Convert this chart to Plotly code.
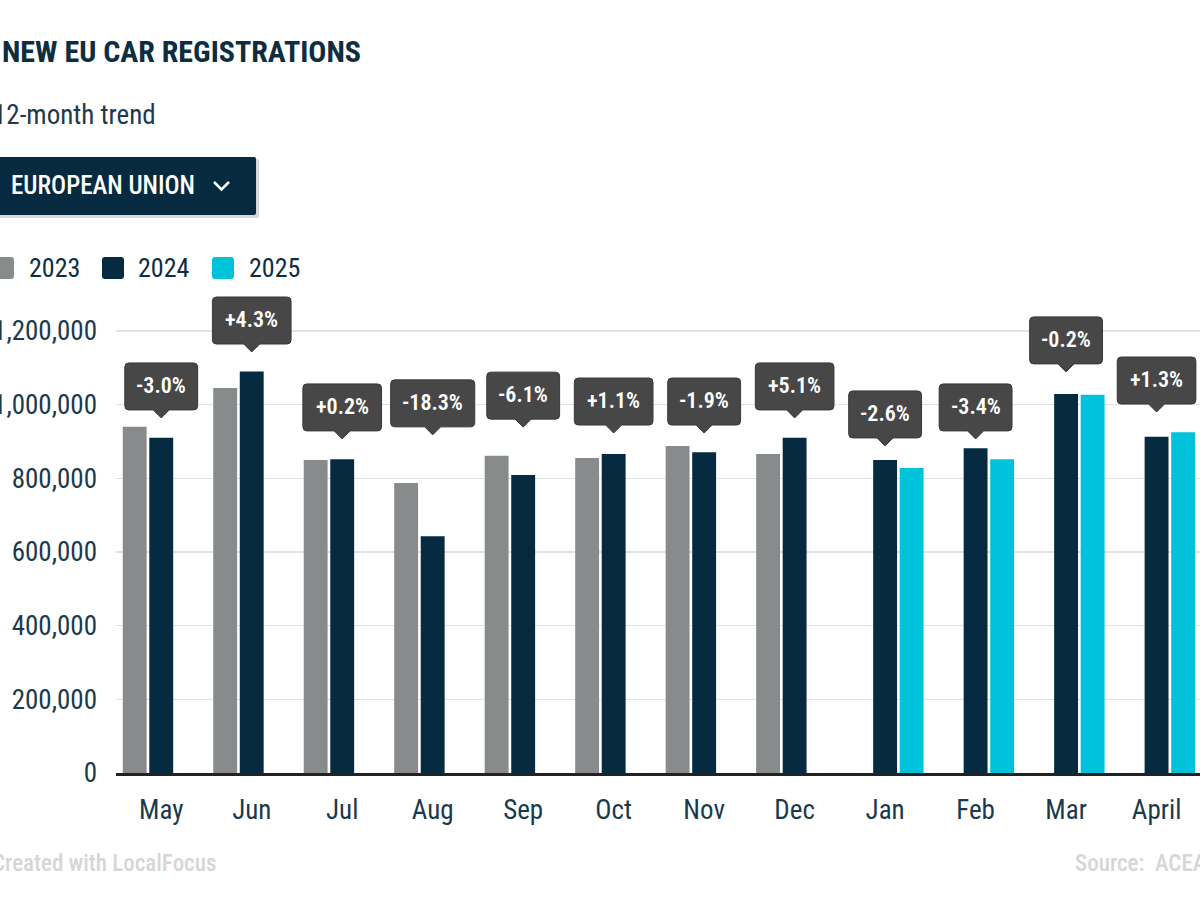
import plotly.graph_objects as go

months = ["May", "Jun", "Jul", "Aug", "Sep", "Oct", "Nov", "Dec", "Jan", "Feb", "Mar", "April"]
v2023 = [940000, 1045000, 850000, 787000, 861000, 855000, 888000, 866000, None, None, None, None]
v2024 = [910000, 1090000, 852000, 643000, 809000, 866000, 871000, 910000, 850000, 882000, 1029000, 913000]
v2025 = [None, None, None, None, None, None, None, None, 828000, 852000, 1027000, 925000]
changes = ["-3.0%", "+4.3%", "+0.2%", "-18.3%", "-6.1%", "+1.1%", "-1.9%", "+5.1%",
           "-2.6%", "-3.4%", "-0.2%", "+1.3%"]
callout_y = [964000, 1143000, 907000, 918000, 939000, 923000, 923000, 964000,
             888000, 907000, 1089000, 980000]
y_ticks = [0, 200000, 400000, 600000, 800000, 1000000, 1200000]
series_names = ["2023", "2024", "2025"]

GRAY = "#888b8c"
NAVY = "#062a40"
CYAN = "#00c3db"
TXT = "#0d2d40"
TICK = "#1a3a4c"
BOX = "#474747"
FONT = "Roboto Condensed, Roboto, sans-serif"

OFF = 0  # page body margin removed by post_script
W, H = 1200, 900
# plot area in screen pixels
SX0, SX1, SY0, SY1 = 116, 1200, 280, 773
L, R, T, B = SX0 - OFF, W - (SX1 - OFF), SY0 - OFF, H - (SY1 - OFF)
YMAX = 1200000 * (SY1 - SY0) / (SY1 - 331)

fig = go.Figure()
for name, vals, col in zip(series_names, [v2023, v2024, v2025], [GRAY, NAVY, CYAN]):
    fig.add_trace(go.Bar(x=months, y=vals, name=name, marker_color=col,
                         marker_line_width=0, showlegend=False, hoverinfo="skip"))

shapes = []
annotations = []


def screen_shape(path, **kw):
    d = dict(type="path", xref="paper", yref="paper", xsizemode="pixel", ysizemode="pixel",
             xanchor=-L / (W - L - R), yanchor=(H - B) / (H - T - B), path=path, layer="above")
    d.update(kw)
    return d


def rrect_screen(x0, y0, x1, y1, r):
    x0, x1, y0, y1 = x0 - OFF, x1 - OFF, y0 - OFF, y1 - OFF
    return (f"M{x0+r},{-y0} L{x1-r},{-y0} Q{x1},{-y0} {x1},{-(y0+r)} "
            f"L{x1},{-(y1-r)} Q{x1},{-y1} {x1-r},{-y1} L{x0+r},{-y1} "
            f"Q{x0},{-y1} {x0},{-(y1-r)} L{x0},{-(y0+r)} Q{x0},{-y0} {x0+r},{-y0} Z")


def poly_screen(pts):
    return "M" + " L".join(f"{x-OFF},{-(y-OFF)}" for x, y in pts)


def pxp(x):
    return (x - OFF - L) / (W - L - R)


def pyp(y):
    return (H - B - (y - OFF)) / (H - T - B)


# dropdown box with shadow
shapes.append(screen_shape(rrect_screen(-4, 159, 259, 218, 2), fillcolor="#d5d9dc", line_width=0))
shapes.append(screen_shape(rrect_screen(-6, 157, 256, 215, 2), fillcolor=NAVY, line_width=0))
shapes.append(screen_shape(poly_screen([(214, 182), (221.5, 189.5), (229, 182)]),
                           line=dict(color="white", width=2.5)))

# legend squares
for x0, col in [(-8, GRAY), (102, NAVY), (212, CYAN)]:
    shapes.append(screen_shape(rrect_screen(x0, 257, x0 + 22, 279, 3), fillcolor=col, line_width=0))

# callouts
cw = {"0": .5615, "1": .5615, "2": .5615, "3": .5615, "4": .5615, "5": .5615, "6": .5615,
      "7": .5615, "8": .5615, "9": .5615, ".": .26, "%": .73, "+": .57, "-": .28}
for i, (lab, yv) in enumerate(zip(changes, callout_y)):
    w = 25 + 20 * sum(cw.get(c, .56) for c in lab)
    h0, h1, r, p = 8, 55, 4, 8
    a, b = -w / 2, w / 2
    path = (f"M{a+r},{h1} L{b-r},{h1} Q{b},{h1} {b},{h1-r} L{b},{h0+r} Q{b},{h0} {b-r},{h0} "
            f"L{p},{h0} L0,0 L{-p},{h0} L{a+r},{h0} Q{a},{h0} {a},{h0+r} L{a},{h1-r} "
            f"Q{a},{h1} {a+r},{h1} Z")
    shapes.append(dict(type="path", xref="x", yref="y", xsizemode="pixel", ysizemode="pixel",
                       xanchor=i, yanchor=yv, path=path, fillcolor=BOX,
                       line=dict(color="#383838", width=1), layer="above"))
    annotations.append(dict(x=i, y=yv, xref="x", yref="y", text=lab, showarrow=False,
                            yanchor="middle", xanchor="center", yshift=(h0 + h1) / 2 + 1,
                            font=dict(family=FONT, size=22, color="white", weight=600)))

# titles
annotations.append(dict(x=pxp(363), y=pyp(52), xref="paper", yref="paper", xanchor="right",
                        yanchor="middle", showarrow=False, text="NEW EU CAR REGISTRATIONS",
                        font=dict(family=FONT, size=30, color=TXT, weight="bold")))
annotations.append(dict(x=pxp(158), y=pyp(115), xref="paper", yref="paper", xanchor="right",
                        yanchor="middle", showarrow=False, text="12-month trend",
                        font=dict(family=FONT, size=27, color="#21394a")))
annotations.append(dict(x=pxp(9), y=pyp(186), xref="paper", yref="paper", xanchor="left",
                        yanchor="middle", showarrow=False, text="EUROPEAN UNION",
                        font=dict(family=FONT, size=25, color="white", weight=500)))
for xr, name in [(82, "2023"), (192, "2024"), (302, "2025")]:
    annotations.append(dict(x=pxp(xr), y=pyp(268), xref="paper", yref="paper", xanchor="right",
                            yanchor="middle", showarrow=False, text=name,
                            font=dict(family=FONT, size=26, color=TXT)))
annotations.append(dict(x=pxp(218), y=pyp(863), xref="paper", yref="paper", xanchor="right",
                        yanchor="middle", showarrow=False, text="Created with LocalFocus",
                        font=dict(family=FONT, size=23, color="#d6d6d6", weight=500)))
annotations.append(dict(x=pxp(1073), y=pyp(863), xref="paper", yref="paper", xanchor="left",
                        yanchor="middle", showarrow=False, text="Source:&nbsp;&nbsp;ACEA",
                        font=dict(family=FONT, size=23, color="#d6d6d6", weight=500)))

fig.update_layout(
    width=W, height=H,
    margin=dict(l=L, r=R, t=T, b=B, pad=0, autoexpand=False),
    paper_bgcolor="white", plot_bgcolor="white",
    barmode="group", bargap=0.12, bargroupgap=0.1,
    shapes=shapes, annotations=annotations,
    showlegend=False, hovermode=False,
    font=dict(family=FONT, color=TICK),
)
fig.update_xaxes(type="category", range=[-0.5, 11.48], showline=True, linecolor="#222222",
                 linewidth=2.5, showgrid=False, ticks="", ticklabelstandoff=11,
                 automargin=False,
                 tickfont=dict(family=FONT, size=27, color=TICK), fixedrange=True)
fig.update_yaxes(range=[0, YMAX], tickvals=y_ticks,
                 ticktext=[f"{v:,}" for v in y_ticks], showgrid=True, gridcolor="#e2e2e2",
                 gridwidth=1.5, zeroline=False, showline=False, ticks="",
                 automargin=False,
                 ticklabelstandoff=18, tickfont=dict(family=FONT, size=27, color=TICK),
                 fixedrange=True)

fig.write_html("out.html", config={"displayModeBar": False, "staticPlot": True},
               post_script="document.body.style.margin='0';document.body.style.overflow='hidden';")
